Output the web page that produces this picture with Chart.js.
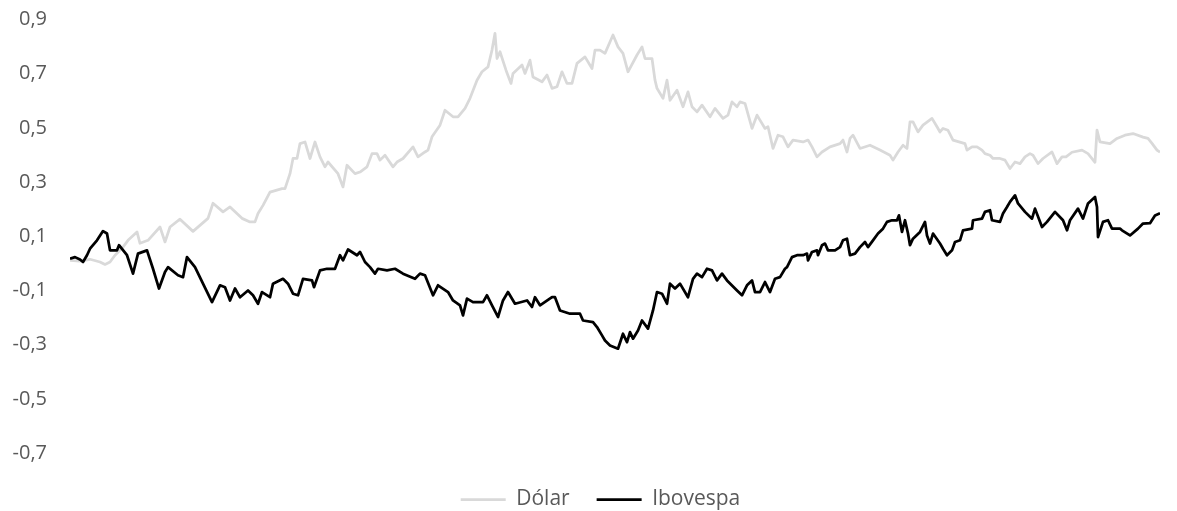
<!DOCTYPE html>
<html lang="pt-BR">
<head>
<meta charset="utf-8">
<title>Dólar x Ibovespa</title>
<script src="https://cdn.jsdelivr.net/npm/chart.js@4.4.1/dist/chart.umd.min.js"></script>
<style>
  html, body { margin: 0; padding: 0; background: #ffffff; }
  #wrap { width: 1177px; height: 511px; position: relative; }
</style>
</head>
<body>
<div id="wrap"><canvas id="retornoChart"></canvas></div>
<script>
const dolarPosicao = [
  0, 10, 20, 30, 35, 40, 45, 53, 58, 67, 70, 78, 90, 95, 100, 110, 123, 138, 143, 153,
  160, 172, 180, 185, 188, 193, 200, 212, 215, 220, 223, 227, 230, 235, 240, 245, 250, 255, 258, 268,
  273, 277, 285, 290, 297, 302, 307, 310, 315, 323, 327, 333, 343, 348, 355, 358, 362, 370, 375, 383,
  388, 395, 400, 407, 412, 418, 422, 425, 427, 430, 436, 441, 443, 452, 455, 460, 463, 472, 477, 482,
  487, 492, 497, 502, 507, 515, 522, 525, 530, 535, 543, 548, 553, 558, 567, 572, 575, 582, 585, 587,
  593, 597, 600, 607, 613, 618, 622, 627, 632, 640, 645, 653, 658, 662, 667, 670, 675, 682, 687, 695,
  698, 703, 708, 713, 718, 723, 733, 738, 742, 747, 752, 760, 770, 773, 777, 780, 783, 790, 800, 810,
  820, 823, 828, 833, 837, 840, 843, 848, 853, 862, 867, 870, 873, 878, 883, 895, 897, 902, 907, 912,
  915, 920, 923, 930, 935, 940, 945, 950, 955, 960, 963, 968, 973, 982, 987, 992, 996, 1002, 1012, 1018,
  1025, 1027, 1030, 1040, 1047, 1055, 1063, 1073, 1078, 1082, 1087, 1090
];
const dolarValores = [
  0.011, 0.008, 0.015, 0.005, -0.004, 0.005, 0.030, 0.060, 0.085, 0.116, 0.074, 0.085, 0.134, 0.079, 0.134, 0.163, 0.118, 0.166, 0.222, 0.190,
  0.208, 0.166, 0.153, 0.153, 0.184, 0.214, 0.263, 0.276, 0.276, 0.331, 0.387, 0.387, 0.442, 0.448, 0.387, 0.448, 0.393, 0.356, 0.374, 0.331,
  0.282, 0.362, 0.331, 0.337, 0.356, 0.405, 0.405, 0.381, 0.399, 0.356, 0.374, 0.387, 0.430, 0.393, 0.411, 0.418, 0.467, 0.510, 0.565, 0.541,
  0.541, 0.572, 0.609, 0.676, 0.707, 0.725, 0.787, 0.849, 0.756, 0.781, 0.713, 0.664, 0.701, 0.732, 0.701, 0.750, 0.688, 0.670, 0.695, 0.646,
  0.652, 0.707, 0.664, 0.664, 0.738, 0.762, 0.719, 0.787, 0.787, 0.775, 0.843, 0.799, 0.775, 0.707, 0.769, 0.799, 0.756, 0.756, 0.676, 0.646,
  0.609, 0.676, 0.602, 0.639, 0.578, 0.633, 0.578, 0.559, 0.584, 0.541, 0.572, 0.535, 0.547, 0.596, 0.578, 0.596, 0.590, 0.498, 0.547, 0.498,
  0.504, 0.424, 0.473, 0.467, 0.430, 0.455, 0.448, 0.455, 0.430, 0.393, 0.411, 0.430, 0.442, 0.455, 0.411, 0.461, 0.473, 0.424, 0.436, 0.418,
  0.399, 0.381, 0.411, 0.436, 0.424, 0.522, 0.522, 0.485, 0.510, 0.535, 0.504, 0.485, 0.498, 0.491, 0.455, 0.442, 0.418, 0.430, 0.430, 0.418,
  0.405, 0.399, 0.387, 0.387, 0.381, 0.350, 0.374, 0.368, 0.393, 0.405, 0.399, 0.368, 0.387, 0.411, 0.368, 0.393, 0.393, 0.410, 0.418, 0.405,
  0.373, 0.492, 0.448, 0.442, 0.461, 0.473, 0.479, 0.466, 0.461, 0.443, 0.418, 0.410
];

const ibovPosicao = [
  0, 5, 10, 13, 17, 20, 27, 33, 37, 40, 47, 49, 57, 63, 68, 77, 83, 89, 95, 98,
  108, 113, 117, 125, 133, 142, 150, 155, 160, 165, 170, 178, 183, 188, 192, 200, 203, 213, 218, 223,
  228, 233, 242, 244, 250, 257, 265, 270, 273, 278, 287, 290, 295, 300, 305, 308, 317, 325, 333, 345,
  350, 355, 363, 368, 378, 383, 390, 393, 397, 403, 413, 417, 422, 428, 433, 438, 445, 457, 462, 465,
  470, 482, 485, 490, 500, 510, 513, 523, 527, 532, 535, 540, 548, 553, 557, 560, 563, 568, 572, 578,
  583, 587, 592, 597, 600, 605, 610, 618, 623, 627, 632, 637, 642, 647, 652, 657, 667, 672, 677, 682,
  685, 690, 695, 700, 705, 710, 715, 717, 722, 727, 733, 737, 738, 742, 747, 748, 752, 755, 758, 765,
  770, 773, 777, 780, 785, 790, 795, 798, 803, 808, 813, 817, 822, 827, 829, 832, 835, 838, 840, 843,
  850, 855, 857, 860, 863, 870, 873, 877, 882, 885, 890, 893, 902, 903, 912, 915, 920, 922, 930, 933,
  937, 940, 945, 948, 955, 962, 965, 972, 977, 985, 993, 997, 1000, 1008, 1013, 1018, 1025, 1027, 1028, 1033,
  1038, 1042, 1050, 1052, 1060, 1068, 1073, 1080, 1085, 1090
];
const ibovValores = [
  0.017, 0.023, 0.014, 0.005, 0.030, 0.054, 0.085, 0.119, 0.110, 0.048, 0.048, 0.067, 0.030, -0.038, 0.036, 0.048, -0.020, -0.093, -0.032, -0.014,
  -0.044, -0.051, 0.023, -0.014, -0.075, -0.143, -0.081, -0.088, -0.137, -0.093, -0.125, -0.100, -0.118, -0.149, -0.106, -0.125, -0.075, -0.057, -0.075, -0.112,
  -0.118, -0.057, -0.063, -0.088, -0.026, -0.020, -0.020, 0.030, 0.011, 0.051, 0.030, 0.042, 0.005, -0.014, -0.038, -0.020, -0.026, -0.020, -0.038, -0.057,
  -0.038, -0.044, -0.118, -0.081, -0.106, -0.137, -0.155, -0.192, -0.130, -0.143, -0.143, -0.118, -0.155, -0.198, -0.137, -0.106, -0.149, -0.137, -0.161, -0.125,
  -0.155, -0.125, -0.125, -0.174, -0.186, -0.186, -0.211, -0.217, -0.235, -0.266, -0.285, -0.303, -0.315, -0.260, -0.291, -0.254, -0.278, -0.248, -0.211, -0.241,
  -0.174, -0.106, -0.112, -0.149, -0.075, -0.093, -0.075, -0.125, -0.057, -0.038, -0.051, -0.020, -0.026, -0.063, -0.038, -0.063, -0.100, -0.118, -0.081, -0.063,
  -0.106, -0.106, -0.069, -0.106, -0.057, -0.051, -0.020, -0.014, 0.023, 0.030, 0.030, 0.036, 0.011, 0.042, 0.048, 0.030, 0.067, 0.073, 0.048, 0.048,
  0.060, 0.085, 0.091, 0.030, 0.036, 0.060, 0.079, 0.060, 0.085, 0.110, 0.128, 0.153, 0.159, 0.159, 0.177, 0.116, 0.159, 0.110, 0.067, 0.091,
  0.116, 0.153, 0.103, 0.073, 0.110, 0.073, 0.054, 0.030, 0.048, 0.079, 0.085, 0.122, 0.128, 0.159, 0.165, 0.190, 0.196, 0.159, 0.153, 0.184,
  0.208, 0.227, 0.251, 0.221, 0.190, 0.165, 0.202, 0.134, 0.153, 0.190, 0.159, 0.122, 0.159, 0.202, 0.165, 0.221, 0.245, 0.208, 0.097, 0.153,
  0.159, 0.128, 0.128, 0.122, 0.103, 0.128, 0.147, 0.148, 0.177, 0.185
];

const rotulosEixoY = ['-0,7', '-0,5', '-0,3', '-0,1', '0,1', '0,3', '0,5', '0,7', '0,9'];
const nomesSeries = ['Dólar', 'Ibovespa'];
const coresSeries = ['#d9d9d9', '#000000'];

function montarPontos(posicoes, valores) {
    return posicoes.map((p, i) => ({ x: p, y: valores[i] }));
}

let retornoChart = null;

function initRetornoChart() {
    const canvas = document.getElementById('retornoChart');
    if (!canvas) {
        console.error('Canvas not found');
        return;
    }

    Chart.defaults.font.family = "'Open Sans', sans-serif";
    Chart.defaults.color = '#595959';

    const serie = (i, pos, val, order) => ({
        label: nomesSeries[i],
        data: montarPontos(pos, val),
        borderColor: coresSeries[i],
        backgroundColor: coresSeries[i],
        borderWidth: 2.75,
        pointRadius: 0,
        pointHoverRadius: 0,
        pointStyle: 'line',
        pointBorderColor: coresSeries[i],
        pointBorderWidth: 2.75,
        tension: 0,
        borderJoinStyle: 'round',
        order: order
    });

    retornoChart = new Chart(canvas.getContext('2d'), {
        type: 'line',
        data: {
            datasets: [
                serie(0, dolarPosicao, dolarValores, 2),
                serie(1, ibovPosicao, ibovValores, 1)
            ]
        },
        options: {
            responsive: true,
            maintainAspectRatio: false,
            animation: false,
            events: [],
            layout: {
                padding: { top: 19.5, left: 10, right: -14, bottom: -9 }
            },
            plugins: {
                legend: {
                    position: 'bottom',
                    labels: {
                        usePointStyle: true,
                        pointStyleWidth: 45,
                        padding: 27,
                        color: '#595959',
                        font: { size: 21 },
                        sort: (a, b) => a.datasetIndex - b.datasetIndex
                    }
                },
                tooltip: { enabled: false }
            },
            scales: {
                x: {
                    type: 'linear',
                    min: 0,
                    max: 1090,
                    grid: { display: false },
                    border: { display: false },
                    ticks: { display: false },
                    afterFit: (scale) => { scale.height = 9; }
                },
                y: {
                    min: -0.7,
                    max: 0.9,
                    // tick marks are hidden; their length only pushes the labels left
                    grid: { display: false, drawTicks: true, tickLength: 23 },
                    border: { display: false },
                    ticks: {
                        stepSize: 0.2,
                        padding: 0,
                        color: '#595959',
                        font: { size: 20 },
                        callback: function(value, index) {
                            return rotulosEixoY[index];
                        }
                    },
                    afterFit: (scale) => { scale.width = 60; }
                },
                margemDireita: {
                    type: 'linear',
                    axis: 'y',
                    position: 'right',
                    grid: { display: false },
                    border: { display: false },
                    ticks: { display: false },
                    afterFit: (scale) => { scale.width = 31; }
                }
            }
        }
    });
}

document.addEventListener('DOMContentLoaded', initRetornoChart);
</script>
</body>
</html>
